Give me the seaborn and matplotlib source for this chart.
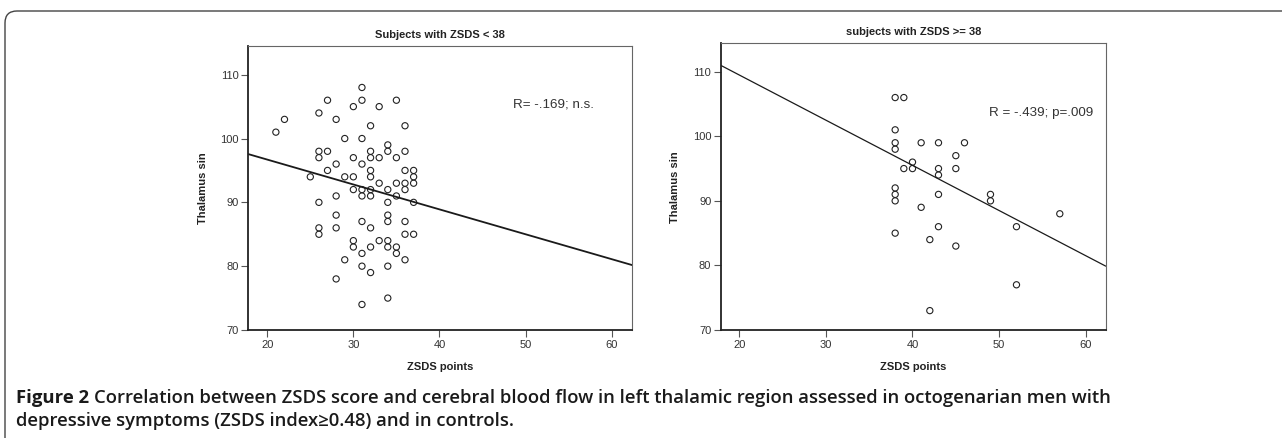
import matplotlib
matplotlib.use('Agg')
import matplotlib.pyplot as plt
from matplotlib.patches import FancyBboxPatch
import numpy as np
import pandas as pd
import seaborn as sns

# values
low_zsds = [21, 22, 25,
            26, 26, 26, 26, 26, 26,
            27, 27, 27,
            28, 28, 28, 28, 28, 28,
            29, 29, 29,
            30, 30, 30, 30, 30, 30,
            31, 31, 31, 31, 31, 31, 31, 31, 31, 31,
            32, 32, 32, 32, 32, 32, 32, 32, 32, 32,
            33, 33, 33, 33,
            34, 34, 34, 34, 34, 34, 34, 34, 34, 34,
            35, 35, 35, 35, 35, 35,
            36, 36, 36, 36, 36, 36, 36, 36,
            37, 37, 37, 37, 37]
low_thal = [101, 103, 94,
            104, 98, 97, 90, 86, 85,
            106, 98, 95,
            103, 96, 91, 88, 86, 78,
            100, 94, 81,
            105, 97, 94, 92, 84, 83,
            108, 106, 100, 96, 92, 91, 87, 82, 80, 74,
            102, 98, 97, 95, 94, 92, 91, 86, 83, 79,
            105, 97, 93, 84,
            99, 98, 92, 90, 88, 87, 84, 83, 80, 75,
            106, 97, 93, 91, 83, 82,
            102, 98, 95, 93, 92, 87, 85, 81,
            95, 94, 93, 90, 85]

high_zsds = [38, 38, 38, 38, 38, 38, 38, 38,
             39, 39, 40, 40, 41, 41, 42, 42,
             43, 43, 43, 43, 43,
             45, 45, 45, 46, 49, 49, 52, 52, 57]
high_thal = [106, 101, 99, 98, 92, 91, 90, 85,
             106, 95, 96, 95, 99, 89, 84, 73,
             99, 95, 94, 91, 86,
             97, 95, 83, 99, 91, 90, 86, 77, 88]

# fitted lines (intercept, slope) as drawn in the reference
fit_low = (104.5, -0.39)
fit_high = (123.5, -0.70)

titles = ["Subjects with ZSDS < 38", "subjects with ZSDS >= 38"]
notes = ["R= -.169; n.s.", "R = -.439; p=.009"]
note_pos = [(48.5, 105.4), (48.8, 103.6)]
x_ticks = [20, 30, 40, 50, 60]
y_ticks = [70, 80, 90, 100, 110]
caption_bold = "Figure 2"
caption_rest = ("Correlation between ZSDS score and cerebral blood flow in left thalamic "
                "region assessed in octogenarian men with")
caption_line2 = "depressive symptoms (ZSDS index\u22650.48) and in controls."

sns.set_style("white")
plt.rcParams['font.family'] = ['Liberation Sans', 'DejaVu Sans']

fig = plt.figure(figsize=(12.82, 4.38), dpi=100)
axes = [fig.add_axes([0.1937, 0.2466, 0.2995, 0.6484]),
        fig.add_axes([0.5624, 0.2466, 0.3001, 0.6545])]
limits = [((17.8, 62.4), (70, 114.5)), ((17.9, 62.3), (70, 114.4))]

frames = [pd.DataFrame({"zsds": low_zsds, "thal": low_thal}),
          pd.DataFrame({"zsds": high_zsds, "thal": high_thal})]
fits = [fit_low, fit_high]
line_w = [1.3, 0.9]
ylab_pad = [9, 9]

for i, ax in enumerate(axes):
    sns.scatterplot(data=frames[i], x="zsds", y="thal", ax=ax, marker="o",
                    s=20, facecolor="none", edgecolor="#222222", linewidth=0.8)
    b0, b1 = fits[i]
    ax.axline((0, b0), slope=b1, color="#1a1a1a", lw=line_w[i])
    ax.set_xlim(*limits[i][0])
    ax.set_ylim(*limits[i][1])
    ax.set_xticks(x_ticks)
    ax.set_yticks(y_ticks)
    ax.tick_params(axis="both", direction="out", length=5, width=0.8,
                   color="#555555", labelsize=8, labelcolor="#333333", pad=2,
                   bottom=True, left=True)
    for side in ["left", "bottom"]:
        ax.spines[side].set_color("#222222")
        ax.spines[side].set_linewidth(1.3)
    for side in ["top", "right"]:
        ax.spines[side].set_color("#666666")
        ax.spines[side].set_linewidth(0.8)
    ax.set_title(titles[i], fontsize=8, fontweight="bold", color="#222222", pad=6)
    ax.set_xlabel("ZSDS points", fontsize=8, fontweight="bold", color="#222222", labelpad=9)
    ax.set_ylabel("Thalamus sin", fontsize=8, fontweight="bold", color="#222222",
                  labelpad=ylab_pad[i])
    ax.text(note_pos[i][0], note_pos[i][1], notes[i], fontsize=9.6, color="#333333",
            va="center", ha="left")

# rounded frame around the figure (top and left edges)
frame = FancyBboxPatch((0.05, -0.5), 13.5, 4.27 + 0.5,
                       boxstyle="round,pad=0,rounding_size=0.12",
                       transform=fig.dpi_scale_trans, fill=False,
                       edgecolor="#444444", linewidth=1.0)
fig.add_artist(frame)

cap_font = ['Open Sans', 'DejaVu Sans']
t1 = fig.text(16 / 1282, 1 - 398 / 438, caption_bold, fontsize=13.3, fontweight="bold",
              family=cap_font, color="#1a1a1a", va="center", ha="left")
fig.canvas.draw()
bb = t1.get_window_extent()
fig.text((bb.x1 + 5) / 1282, 1 - 398 / 438, caption_rest, fontsize=13.3,
         fontweight="semibold", family=cap_font, color="#1a1a1a", va="center", ha="left")
fig.text(16 / 1282, 1 - 421 / 438, caption_line2, fontsize=13.3, fontweight="semibold",
         family=cap_font, color="#1a1a1a", va="center", ha="left")

fig.savefig("out.png", dpi=100)
